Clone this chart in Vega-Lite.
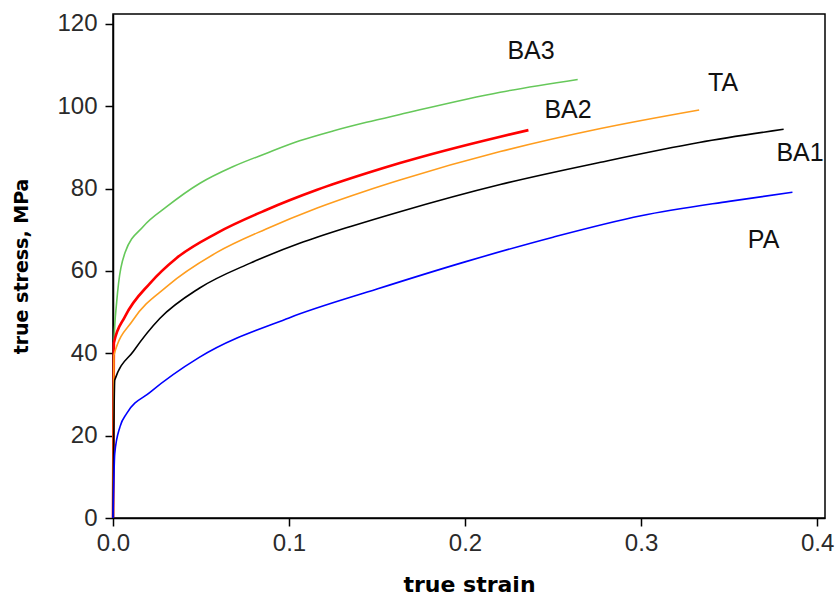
{
  "$schema": "https://vega.github.io/schema/vega-lite/v6.json",
  "autosize": "none",
  "padding": {"left": 113, "top": 14, "right": 10, "bottom": 77},
  "width": 712,
  "height": 504,
  "background": "white",
  "config": {
    "view": {"stroke": "black", "strokeWidth": 1.5},
    "font": "Liberation Sans",
    "axis": {
      "grid": false,
      "domainColor": "black",
      "domainWidth": 1.5,
      "tickColor": "black",
      "tickWidth": 1.5,
      "tickSize": 8,
      "labelFlush": false,
      "labelFont": "Liberation Sans",
      "labelFontSize": 24,
      "labelColor": "#2a2a2a",
      "titleFont": "DejaVu Sans",
      "titleFontWeight": "bold",
      "titleColor": "black"
    }
  },
  "datasets": {
    "curves": [
      {"series": "BA3", "strain": 0, "stress": 0},
      {"series": "BA3", "strain": 0.0005, "stress": 42},
      {"series": "BA3", "strain": 0.0021, "stress": 52.5},
      {"series": "BA3", "strain": 0.0068, "stress": 64.4},
      {"series": "BA3", "strain": 0.0172, "stress": 70.8},
      {"series": "BA3", "strain": 0.0305, "stress": 75.6},
      {"series": "BA3", "strain": 0.0494, "stress": 81.3},
      {"series": "BA3", "strain": 0.068, "stress": 85.3},
      {"series": "BA3", "strain": 0.0873, "stress": 88.6},
      {"series": "BA3", "strain": 0.106, "stress": 91.6},
      {"series": "BA3", "strain": 0.125, "stress": 94.0},
      {"series": "BA3", "strain": 0.144, "stress": 96.1},
      {"series": "BA3", "strain": 0.163, "stress": 98.0},
      {"series": "BA3", "strain": 0.22, "stress": 103.4},
      {"series": "BA3", "strain": 0.264, "stress": 106.5},

      {"series": "BA2", "strain": 0, "stress": 0},
      {"series": "BA2", "strain": 0.0005, "stress": 42.5},
      {"series": "BA2", "strain": 0.0068, "stress": 48.9},
      {"series": "BA2", "strain": 0.021, "stress": 57.0},
      {"series": "BA2", "strain": 0.036, "stress": 63.1},
      {"series": "BA2", "strain": 0.059, "stress": 69.2},
      {"series": "BA2", "strain": 0.087, "stress": 74.8},
      {"series": "BA2", "strain": 0.116, "stress": 79.7},
      {"series": "BA2", "strain": 0.144, "stress": 83.7},
      {"series": "BA2", "strain": 0.163, "stress": 86.2},
      {"series": "BA2", "strain": 0.22, "stress": 92.6},
      {"series": "BA2", "strain": 0.236, "stress": 94.2},

      {"series": "TA", "strain": 0, "stress": 0},
      {"series": "TA", "strain": 0.0005, "stress": 39.5},
      {"series": "TA", "strain": 0.0114, "stress": 48.1},
      {"series": "TA", "strain": 0.0305, "stress": 56.2},
      {"series": "TA", "strain": 0.059, "stress": 64.5},
      {"series": "TA", "strain": 0.087, "stress": 70.2},
      {"series": "TA", "strain": 0.116, "stress": 75.3},
      {"series": "TA", "strain": 0.144, "stress": 79.5},
      {"series": "TA", "strain": 0.163, "stress": 82.1},
      {"series": "TA", "strain": 0.22, "stress": 89.0},
      {"series": "TA", "strain": 0.277, "stress": 94.6},
      {"series": "TA", "strain": 0.333, "stress": 99.1},

      {"series": "BA1", "strain": 0, "stress": 0},
      {"series": "BA1", "strain": 0.001, "stress": 33.5},
      {"series": "BA1", "strain": 0.0116, "stress": 40.5},
      {"series": "BA1", "strain": 0.0267, "stress": 48.5},
      {"series": "BA1", "strain": 0.049, "stress": 55.8},
      {"series": "BA1", "strain": 0.078, "stress": 61.9},
      {"series": "BA1", "strain": 0.106, "stress": 66.7},
      {"series": "BA1", "strain": 0.135, "stress": 70.8},
      {"series": "BA1", "strain": 0.163, "stress": 74.4},
      {"series": "BA1", "strain": 0.22, "stress": 81.0},
      {"series": "BA1", "strain": 0.277, "stress": 86.4},
      {"series": "BA1", "strain": 0.333, "stress": 91.2},
      {"series": "BA1", "strain": 0.381, "stress": 94.4},

      {"series": "PA", "strain": 0, "stress": 0},
      {"series": "PA", "strain": 0.001, "stress": 15.7},
      {"series": "PA", "strain": 0.004, "stress": 22.2},
      {"series": "PA", "strain": 0.0078, "stress": 25.4},
      {"series": "PA", "strain": 0.021, "stress": 30.5},
      {"series": "PA", "strain": 0.049, "stress": 39.0},
      {"series": "PA", "strain": 0.1, "stress": 48.6},
      {"series": "PA", "strain": 0.15, "stress": 55.6},
      {"series": "PA", "strain": 0.2, "stress": 62.2},
      {"series": "PA", "strain": 0.25, "stress": 68.2},
      {"series": "PA", "strain": 0.3, "stress": 73.4},
      {"series": "PA", "strain": 0.35, "stress": 76.9},
      {"series": "PA", "strain": 0.386, "stress": 79.1}
    ],
    "labels": [
      {"label": "BA3", "strain": 0.2375, "stress": 113.3},
      {"label": "TA", "strain": 0.3466, "stress": 105.7},
      {"label": "BA2", "strain": 0.2585, "stress": 99.1},
      {"label": "BA1", "strain": 0.3903, "stress": 88.7},
      {"label": "PA", "strain": 0.3696, "stress": 67.5}
    ]
  },
  "layer": [
    {
      "data": {"name": "curves"},
      "mark": {"type": "line", "interpolate": "monotone"},
      "encoding": {
        "x": {
          "field": "strain", "type": "quantitative",
          "scale": {"domain": [0, 0.4045], "nice": false, "zero": true},
          "axis": {"values": [0, 0.1, 0.2, 0.3, 0.4], "format": ".1f", "title": "true strain", "titleFontSize": 22, "titlePadding": 19, "labelPadding": 5}
        },
        "y": {
          "field": "stress", "type": "quantitative",
          "scale": {"domain": [0, 122.4], "nice": false},
          "axis": {"values": [0, 20, 40, 60, 80, 100, 120], "title": "true stress, MPa", "titleFontSize": 19, "titlePadding": 25, "labelPadding": 8}
        },
        "color": {
          "field": "series", "type": "nominal",
          "scale": {"domain": ["BA3", "BA2", "TA", "BA1", "PA"], "range": ["#66c85a", "#ff0000", "#ff9d1e", "#000000", "#0000ff"]},
          "legend": null
        },
        "strokeWidth": {
          "condition": {"test": "datum.series === 'BA2'", "value": 2.6},
          "value": 1.6
        },
        "detail": {"field": "series"}
      }
    },
    {
      "data": {"name": "labels"},
      "mark": {"type": "text", "font": "Liberation Sans", "fontSize": 25, "color": "#111", "align": "center", "baseline": "middle"},
      "encoding": {
        "x": {"field": "strain", "type": "quantitative"},
        "y": {"field": "stress", "type": "quantitative"},
        "text": {"field": "label"}
      }
    }
  ]
}
